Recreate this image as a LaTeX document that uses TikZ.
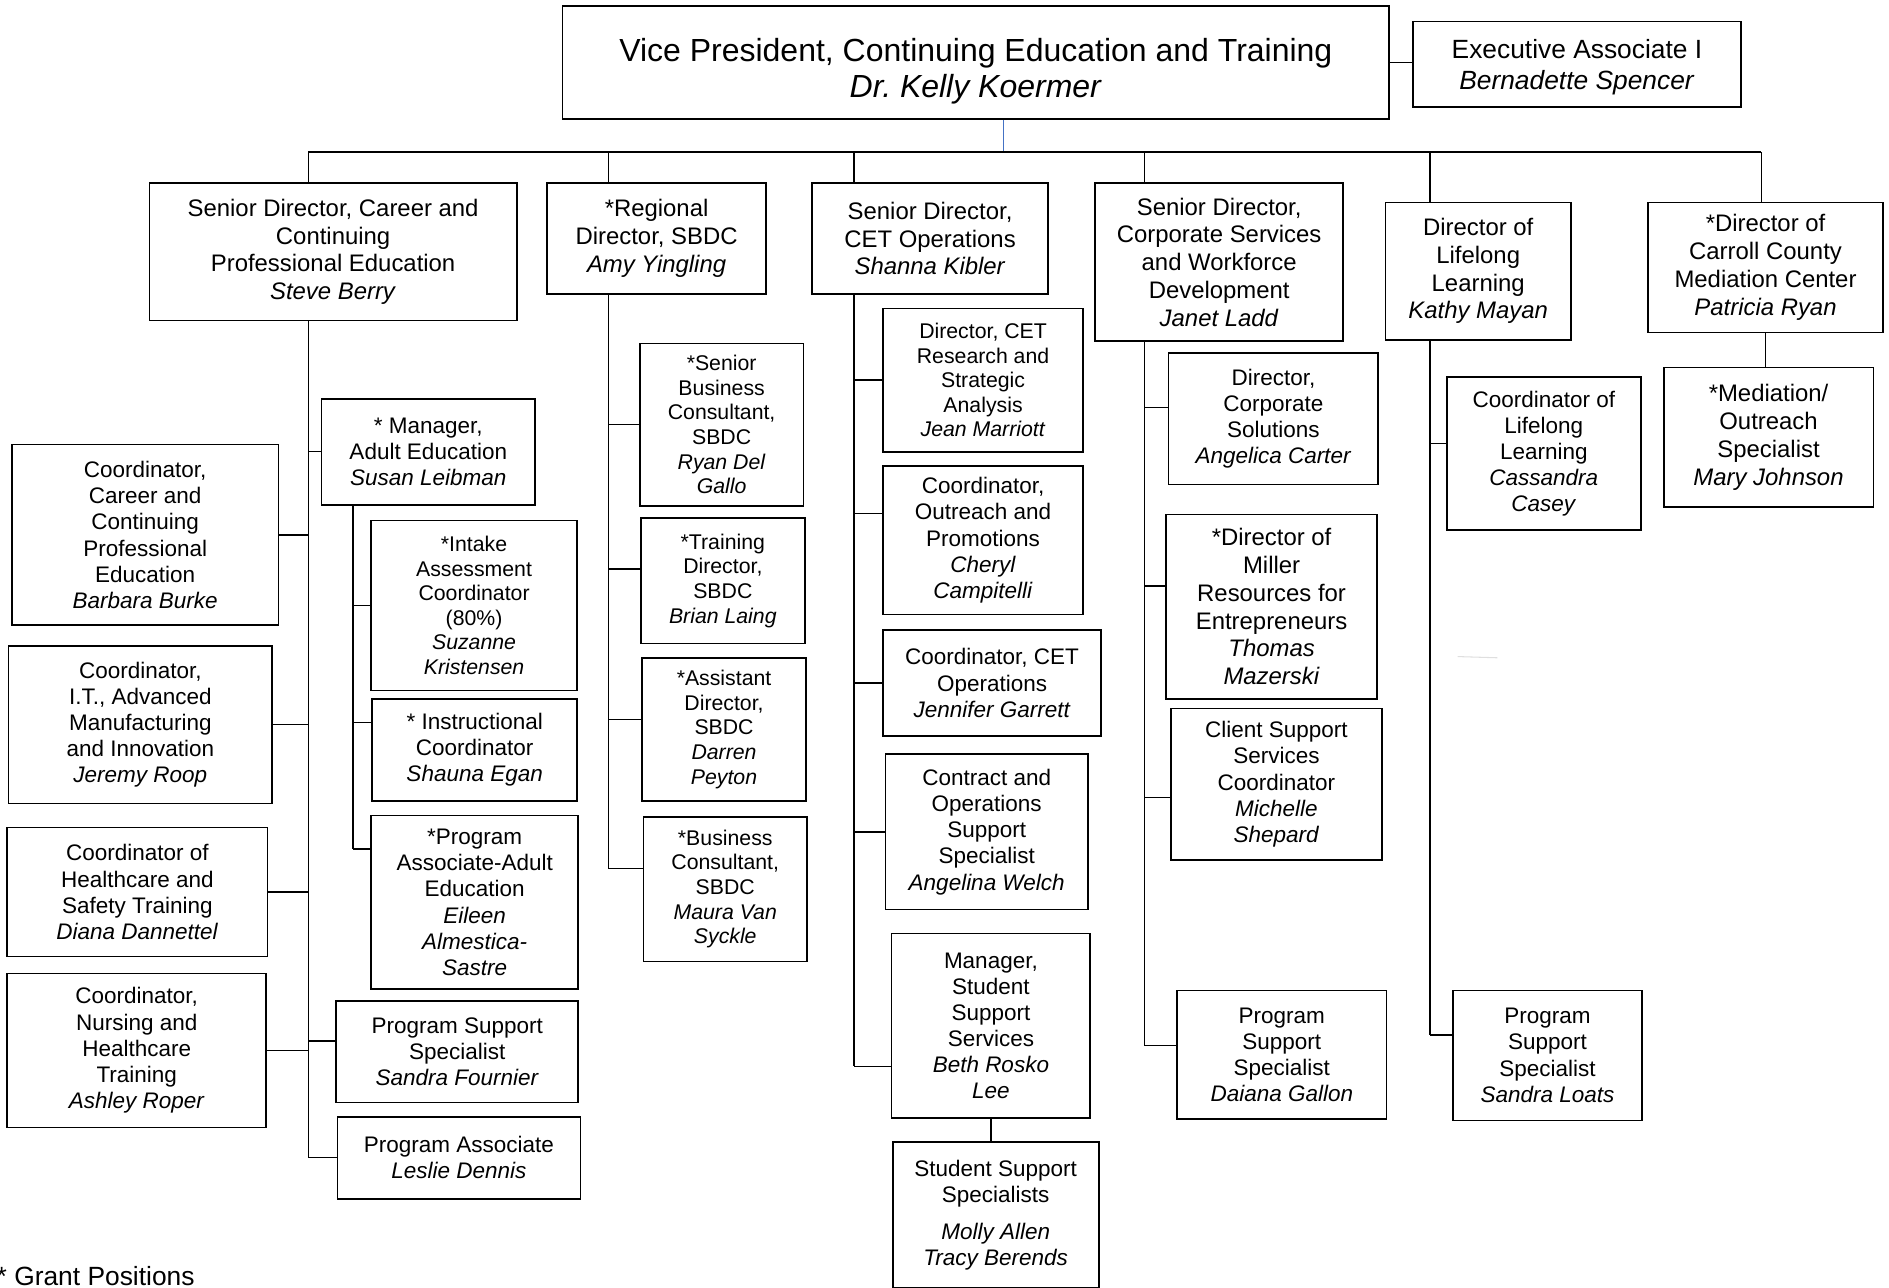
\documentclass[tikz,border=0pt]{standalone}
\usepackage{fontspec}
\setmainfont{Liberation Sans}
\usepackage{tikz}

\newlength\pxu
\setlength\pxu{0.024094cm}
\newcommand\who[1]{\textit{#1}}
\frenchspacing

\begin{document}
\begin{tikzpicture}[
  x=0.024094cm, y=-0.024094cm,
  box/.style n args={2}{draw, line width=0.9pt, align=center, inner sep=0pt,
    minimum width=#1\pxu, minimum height=#2\pxu},
  big/.style={font=\fontsize{18.2}{20.6}\selectfont},
  mid/.style={font=\fontsize{15}{17.8}\selectfont},
  head/.style={font=\fontsize{13.6}{15.8}\selectfont},
  std/.style={font=\fontsize{12.8}{14.9}\selectfont},
  small/.style={font=\fontsize{12.1}{14}\selectfont},
  link/.style={line width=0.8pt}
]
  \useasboundingbox (0,0) rectangle (1568,1069);

  \node[box={686}{94}, big] (vp) at (810,52)
    {\rule{0pt}{23pt}Vice President, Continuing Education and Training\\\who{Dr. Kelly Koermer}};
  \node[box={272}{71}, mid] (exec) at (1309,53.5)
    {\rule{0pt}{14pt}Executive Associate I\\\who{Bernadette Spencer}};

  \node[box={305}{114}, head] (career) at (276.5,209)
    {Senior Director, Career and\\Continuing\\Professional Education\\\who{Steve Berry}};
  \node[box={182}{92}, head] (regional) at (545,198)
    {*Regional\\Director, SBDC\\\who{Amy Yingling}};
  \node[box={196}{92}, head] (cetops) at (772,198)
    {Senior Director,\\CET Operations\\\who{Shanna Kibler}};
  \node[box={206}{131}, head] (corp) at (1012,217.5)
    {Senior Director,\\Corporate Services\\and Workforce\\Development\\\who{Janet Ladd}};
  \node[box={154}{114}, head] (lifelong) at (1227,225)
    {Director of\\Lifelong\\Learning\\\who{Kathy Mayan}};
  \node[box={195}{108}, head] (carroll) at (1465.5,222)
    {*Director of\\Carroll County\\Mediation Center\\\who{Patricia Ryan}};

  \node[box={221}{150}, std] (ccc) at (120.5,444)
    {Coordinator,\\Career and\\Continuing\\Professional\\Education\\\who{Barbara Burke}};
  \node[box={219}{131}, std] (cit) at (116.5,601.5)
    {Coordinator,\\I.T., Advanced\\Manufacturing\\and Innovation\\\who{Jeremy Roop}};
  \node[box={216}{107}, std] (chs) at (114,740.5)
    {Coordinator of\\Healthcare and\\Safety Training\\\who{Diana Dannettel}};
  \node[box={215}{128}, std] (cnh) at (113.5,872)
    {Coordinator,\\Nursing and\\Healthcare\\Training\\\who{Ashley Roper}};
  \node[box={177}{88}, std] (mae) at (355.5,375)
    {* Manager,\\Adult Education\\\who{Susan Leibman}};
  \node[box={171}{141}, small] (iac) at (393.5,502.5)
    {*Intake\\Assessment\\Coordinator\\(80\%)\\\who{Suzanne}\\\who{Kristensen}};
  \node[box={170}{85}, std] (ic) at (394,622.5)
    {* Instructional\\Coordinator\\\who{Shauna Egan}};
  \node[box={172}{144}, std] (paa) at (394,749)
    {*Program\\Associate-Adult\\Education\\\who{Eileen}\\\who{Almestica-}\\\who{Sastre}};
  \node[box={201}{84}, std] (psf) at (379.5,873)
    {Program Support\\Specialist\\\who{Sandra Fournier}};
  \node[box={202}{68}, std] (pal) at (381,961)
    {Program Associate\\\who{Leslie Dennis}};

  \node[box={136}{135}, small] (sbc) at (599,352.5)
    {*Senior\\Business\\Consultant,\\SBDC\\\who{Ryan Del}\\\who{Gallo}};
  \node[box={136}{104}, small] (td) at (600,482)
    {*Training\\Director,\\SBDC\\\who{Brian Laing}};
  \node[box={136}{119}, small] (ad) at (601,605.5)
    {*Assistant\\Director,\\SBDC\\\who{Darren}\\\who{Peyton}};
  \node[box={136}{120}, small] (bc) at (602,738)
    {*Business\\Consultant,\\SBDC\\\who{Maura Van}\\\who{Syckle}};

  \node[box={166}{119}, small] (dr) at (816,315.5)
    {Director, CET\\Research and\\Strategic\\Analysis\\\who{Jean Marriott}};
  \node[box={166}{123}, std] (co) at (816,448.5)
    {Coordinator,\\Outreach and\\Promotions\\\who{Cheryl}\\\who{Campitelli}};
  \node[box={181}{88}, std] (cops) at (823.5,567)
    {Coordinator, CET\\Operations\\\who{Jennifer Garrett}};
  \node[box={168}{129}, std] (cos) at (819,690.5)
    {Contract and\\Operations\\Support\\Specialist\\\who{Angelina Welch}};
  \node[box={165}{153}, std] (mss) at (822.5,851.5)
    {Manager,\\Student\\Support\\Services\\\who{Beth Rosko}\\\who{Lee}};
  \node[box={171}{121}, std] (sss) at (826.5,1008.5)
    {Student Support\\Specialists\\[6pt]\who{Molly Allen}\\\who{Tracy Berends}};

  \node[box={174}{109}, std] (dcs) at (1057,347.5)
    {Director,\\Corporate\\Solutions\\\who{Angelica Carter}};
  \node[box={175}{153}, head] (dm) at (1055.5,503.5)
    {*Director of\\Miller\\Resources for\\Entrepreneurs\\\who{Thomas}\\\who{Mazerski}};
  \node[box={175}{126}, std] (csc) at (1059.5,651)
    {Client Support\\Services\\Coordinator\\\who{Michelle}\\\who{Shepard}};
  \node[box={174}{107}, std] (psd) at (1064,875.5)
    {Program\\Support\\Specialist\\\who{Daiana Gallon}};

  \node[box={161}{127}, std] (cll) at (1281.5,376.5)
    {Coordinator of\\Lifelong\\Learning\\\who{Cassandra}\\\who{Casey}};
  \node[box={157}{108}, std] (psl) at (1284.5,876)
    {Program\\Support\\Specialist\\\who{Sandra Loats}};

  \node[box={174}{116}, head] (mos) at (1468,363)
    {*Mediation/\\Outreach\\Specialist\\\who{Mary Johnson}};

  \node[font=\fontsize{15}{17}\selectfont, anchor=base west, inner sep=0pt] (grant) at (-3,1067) {* Grant Positions};

  \coordinate (s1) at (256,126);
  \coordinate (s2) at (505,126);
  \coordinate (s3) at (709,126);
  \coordinate (s4) at (950,126);
  \coordinate (s5) at (1187,126);
  \coordinate (s6) at (1462,126);
  \coordinate (vpd) at (833,126);
  \coordinate (ae) at (293,0);

  \draw[link] (vp.east) -- (vp.east -| exec.west);
  \draw[line width=0.6pt, color={rgb,255:red,68;green,114;blue,196}] (vp.south -| vpd) -- (vpd);
  \draw[link] (s1) -- (s6);
  \foreach \s/\b in {s1/career, s2/regional, s3/cetops, s4/corp, s5/lifelong, s6/carroll}
    \draw[link] (\s) -- (\s |- \b.north);

  \draw[link] (s1 |- career.south) -- (s1 |- pal.west);
  \foreach \b in {ccc, cit, chs, cnh}
    \draw[link] (\b.east) -- (s1 |- \b.east);
  \foreach \b/\a in {mae/west, psf/175, pal/west}
    \draw[link] (s1 |- \b.\a) -- (\b.\a);

  \draw[link] (ae |- mae.south) -- (ae |- paa.153);
  \foreach \b/\a in {iac/west, ic/165, paa/153}
    \draw[link] (ae |- \b.\a) -- (\b.\a);

  \draw[link] (s2 |- regional.south) -- (s2 |- bc.166);
  \foreach \b/\a in {sbc/west, td/172, ad/173, bc/166}
    \draw[link] (s2 |- \b.\a) -- (\b.\a);

  \draw[link] (s3 |- cetops.south) -- (s3 |- mss.202);
  \foreach \b/\a in {dr/west, co/165, cops/west, cos/west, mss/202}
    \draw[link] (s3 |- \b.\a) -- (\b.\a);
  \draw[link] (mss.south) -- (mss.south |- sss.north);

  \draw[link] (s4 |- corp.south) -- (s4 |- psd.175);
  \foreach \b/\a in {dcs/174, dm/169, csc/187, psd/175}
    \draw[link] (s4 |- \b.\a) -- (\b.\a);

  \draw[link] (s5 |- lifelong.south) -- (s5 |- psl.168);
  \foreach \b/\a in {cll/174, psl/168}
    \draw[link] (s5 |- \b.\a) -- (\b.\a);

  \draw[link] (carroll.south) -- (carroll.south |- mos.north);

  \draw[gray!25, line width=0.6pt] (1210,545) -- (1243,546);
\end{tikzpicture}
\end{document}
